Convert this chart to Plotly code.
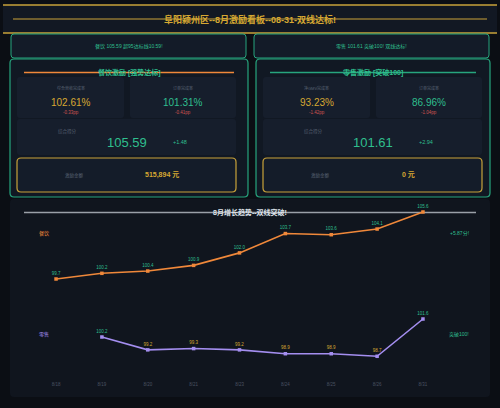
import plotly.graph_objects as go

# ---------------- data ----------------
dates = ["8/18", "8/19", "8/20", "8/21", "8/23", "8/24", "8/25", "8/26", "8/31"]
catering = [99.7, 100.2, 100.4, 100.9, 102.0, 103.7, 103.6, 104.1, 105.6]
retail = [None, 100.2, 99.2, 99.3, 99.2, 98.9, 98.9, 98.7, 101.6]

title_text = "阜阳颍州区--8月激励看板--08-31-双线达标!"
banner_left = "餐饮 105.59 超95达标线10.59!"
banner_right = "零售 101.61 突破100! 双线达标!"
panel_titles = ["餐饮激励 [强势达标]", "零售激励 [突破100]"]
card_labels = [["综合营收完成率", "订单完成率"], ["净GMV完成率", "订单完成率"]]
card_values = [["102.61%", "101.31%"], ["93.23%", "86.96%"]]
card_deltas = [["-0.33pp", "-0.41pp"], ["-1.42pp", "-1.04pp"]]
scores = ["105.59", "101.61"]
score_deltas = ["+1.48", "+2.94"]
bonus = ["515,894 元", "0 元"]
chart_title = "8月增长趋势--双线突破!"

W, H = 500, 408
BG = "#0b0e14"
GOLD = "#c9a23a"
GOLD_T = "#d6a832"
GREEN = "#27a57e"
GREEN_T = "#2fbf8e"
ORANGE = "#f0883a"
PURPLE = "#a48ef0"
RED = "#cf5450"
GRAY = "#586172"
FONT = "Liberation Sans, Noto Sans CJK SC, sans-serif"


def X(x):
    return x / W


def Y(y):
    return 1 - y / H


def rrect(x0, y0, x1, y1, r, fill, line=None, lw=1):
    def p(x, y):
        return f"{X(x):.5f},{Y(y):.5f}"
    path = (f"M {p(x0 + r, y0)} L {p(x1 - r, y0)} Q {p(x1, y0)} {p(x1, y0 + r)} "
            f"L {p(x1, y1 - r)} Q {p(x1, y1)} {p(x1 - r, y1)} L {p(x0 + r, y1)} "
            f"Q {p(x0, y1)} {p(x0, y1 - r)} L {p(x0, y0 + r)} Q {p(x0, y0)} {p(x0 + r, y0)} Z")
    return dict(type="path", xref="paper", yref="paper", path=path, fillcolor=fill,
                line=dict(color=line if line else "rgba(0,0,0,0)", width=lw if line else 0),
                layer="below")


def hline(x0, x1, y, color, w=1.5):
    return dict(type="line", xref="paper", yref="paper", x0=X(x0), x1=X(x1), y0=Y(y), y1=Y(y),
                line=dict(color=color, width=w), layer="below")


def ann(text, x, y, size, color, bold=False, xanchor="center"):
    t = f"<b>{text}</b>" if bold else text
    return dict(text=t, x=X(x), y=Y(y), xref="paper", yref="paper", showarrow=False,
                xanchor=xanchor, yanchor="middle", font=dict(size=size, color=color, family=FONT))


shapes = []
anns = []

# header
shapes.append(rrect(3, 5, 497, 33, 0, "#121823"))
shapes.append(hline(3, 497, 5, GOLD, 1.5))
shapes.append(hline(3, 497, 33, GOLD, 1.5))
shapes.append(hline(13, 487, 19, GOLD, 1.2))
anns.append(ann(title_text, 250, 19, 9, GOLD_T, bold=True))

# banners
shapes.append(rrect(11, 34, 246, 58, 3, "#131b28", GREEN, 1))
shapes.append(rrect(254, 34, 489, 58, 3, "#131b28", GREEN, 1))
anns.append(ann(banner_left, 128.5, 46, 5, GREEN_T))
anns.append(ann(banner_right, 371.5, 46, 5, GREEN_T))

# panels
panel_x = [(10, 248), (256, 490)]
title_line_col = [ORANGE, GREEN]
for i, (a, b) in enumerate(panel_x):
    shapes.append(rrect(a, 59, b, 197, 4, "#111823", GREEN, 1.2))
    cx = (a + b) / 2
    shapes.append(hline(a + 14, b - 14, 72.5, title_line_col[i], 1.5))
    anns.append(ann(panel_titles[i], cx, 72.5, 7, GREEN_T, bold=True))
    ox = a + 7
    # two small cards
    cards = [(ox, ox + 107), (ox + 113, ox + 219)]
    for j, (c0, c1) in enumerate(cards):
        shapes.append(rrect(c0, 77, c1, 118, 3, "#161e2c"))
        cc = (c0 + c1) / 2
        anns.append(ann(card_labels[i][j], cc, 88, 4, GRAY))
        anns.append(ann(card_values[i][j], cc, 102, 10, GOLD_T if j == 0 else GREEN_T))
        anns.append(ann(card_deltas[i][j], cc, 112, 4.5, RED))
    # score card
    shapes.append(rrect(ox, 119, ox + 219, 155, 3, "#161e2c"))
    anns.append(ann("综合得分", ox + 50, 131, 4.5, GRAY))
    anns.append(ann(scores[i], ox + 110, 142.5, 13, GREEN_T))
    anns.append(ann(score_deltas[i], ox + 163, 142, 5.5, GREEN_T))
    # bonus card
    shapes.append(rrect(ox, 158, ox + 219, 192, 4, "#141c29", GOLD, 1.2))
    anns.append(ann("激励金额", ox + 57, 175, 4.5, GRAY))
    anns.append(ann(bonus[i], ox + 145, 175, 7, GOLD_T, bold=True))

# chart panel
shapes.append(rrect(10, 199, 490, 397, 4, "#10151e"))
shapes.append(hline(24, 476, 212.5, "#9aa0a8", 1.5))
anns.append(ann(chart_title, 250, 212, 7, "#dfe3ea", bold=True))
anns.append(ann("餐饮", 43.5, 233, 5, ORANGE))
anns.append(ann("零售", 43.5, 334, 5, PURPLE))
anns.append(ann("+5.87分!", 459.5, 233, 5, GREEN_T))
anns.append(ann("突破100!", 459, 334, 5, GREEN_T))

fig = go.Figure()
cat_colors = [GREEN_T for v in catering]
ret_colors = [GREEN_T if (v is not None and v >= 100) else GOLD_T for v in retail]
fig.add_trace(go.Scatter(
    x=dates, y=catering, mode="lines+markers+text", xaxis="x", yaxis="y",
    line=dict(color=ORANGE, width=1.6), marker=dict(symbol="square", size=3.5, color=ORANGE),
    text=[f"{v:.1f}" for v in catering], textposition="top center",
    textfont=dict(size=4.5, color=cat_colors, family=FONT), cliponaxis=False, showlegend=False))
fig.add_trace(go.Scatter(
    x=dates, y=retail, mode="lines+markers+text", xaxis="x2", yaxis="y2",
    line=dict(color=PURPLE, width=1.6), marker=dict(symbol="square", size=3.5, color=PURPLE),
    text=["" if v is None else f"{v:.1f}" for v in retail], textposition="top center",
    textfont=dict(size=4.5, color=ret_colors, family=FONT), cliponaxis=False, showlegend=False))

xdom = [X(33.1), X(445.9)]
ax_common = dict(showgrid=False, zeroline=False, showline=False, ticks="")
fig.update_layout(
    width=W, height=H, margin=dict(l=0, r=0, t=0, b=0),
    paper_bgcolor=BG, plot_bgcolor="rgba(0,0,0,0)",
    font=dict(family=FONT),
    shapes=shapes, annotations=anns,
    xaxis=dict(domain=xdom, type="category", range=[-0.5, 8.5], showticklabels=False,
               anchor="y", **ax_common),
    yaxis=dict(domain=[Y(290), Y(205)], range=[98.731, 106.216], showticklabels=False,
               anchor="x", **ax_common),
    xaxis2=dict(domain=xdom, type="category", range=[-0.5, 8.5], showticklabels=True,
                tickfont=dict(size=4.5, color="#4a5262", family=FONT), anchor="y2", **ax_common),
    yaxis2=dict(domain=[Y(380), Y(310)], range=[96.856, 102.3], showticklabels=False,
                anchor="x2", **ax_common),
)

fig.write_html("out.html", config={"displayModeBar": False},
               post_script="document.body.style.margin='0';document.body.style.background='#0b0e14';")
